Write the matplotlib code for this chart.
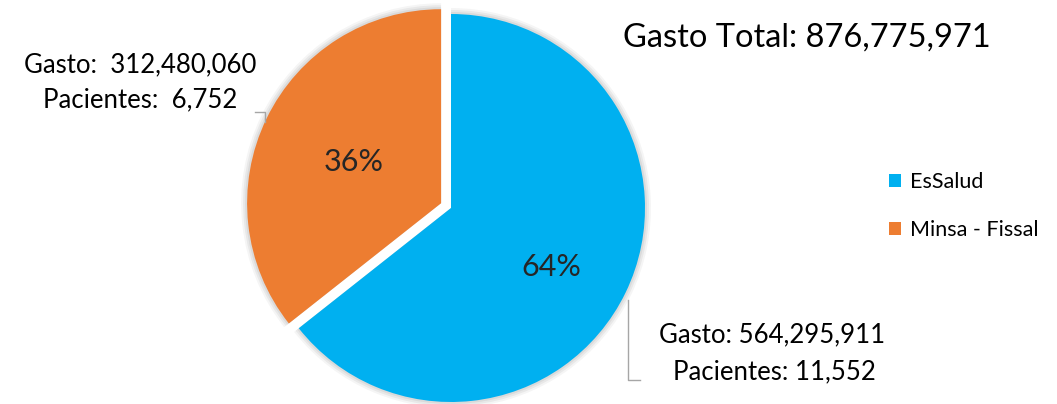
import matplotlib
matplotlib.use("Agg")
import matplotlib.pyplot as plt

plt.rcParams['font.family'] = ['Lato', 'DejaVu Sans']

categorias = ["EsSalud", "Minsa - Fissal"]
gasto = [564295911, 312480060]
pacientes = [11552, 6752]
colores = ["#00B0F0", "#ED7D31"]

fig = plt.figure(figsize=(10.57, 4.04), dpi=100)
ax = fig.add_axes([0, 0, 1, 1])

R = 194
cx, cy = 451, 196

wedges, _, autotexts = ax.pie(gasto, colors=colores, startangle=90, counterclock=False,
                              center=(cx, cy), radius=R, explode=[0, 11],
                              autopct='%1.0f%%', pctdistance=0.55,
                              wedgeprops=dict(linewidth=0),
                              textprops=dict(fontsize=22, color="#262626"))
ax.set_xlim(0, 1057)
ax.set_ylim(0, 404)
ax.set_aspect('equal')
ax.axis('off')
autotexts[0].set_position((551, 137))
autotexts[1].set_position((354, 242))

# soft shadow
for w in wedges:
    for k, a in [(6, 0.04), (4, 0.05), (2, 0.06)]:
        sh = matplotlib.patches.Wedge(w.center, w.r + k, w.theta1, w.theta2,
                                      facecolor='black', alpha=a, linewidth=0, zorder=0)
        ax.add_patch(sh)

total = sum(gasto)
ax.text(807, 366, "Gasto Total: {:,}".format(total), fontsize=23.5, ha='center', va='center',
        color='black')

# data labels
ax.text(140, 339, "Gasto:  {:,}".format(gasto[1]), fontsize=18.5, ha='center', va='center')
ax.text(140, 304, "Pacientes:  {:,}".format(pacientes[1]), fontsize=18.5, ha='center', va='center')
ax.text(772, 69, "Gasto: {:,}".format(gasto[0]), fontsize=18.5, ha='center', va='center')
ax.text(774, 32, "Pacientes: {:,}".format(pacientes[0]), fontsize=18.5, ha='center', va='center')

# leader lines
ax.plot([255, 265, 265], [292, 292, 282], color='#A6A6A6', lw=1)
ax.plot([628, 628, 640], [104, 24, 24], color='#A6A6A6', lw=1)

leg = ax.legend(wedges, categorias, loc='center left', bbox_to_anchor=(0.823, 0.49),
                frameon=False, fontsize=15.5, handlelength=0.55, handleheight=0.55,
                handletextpad=0.4, labelspacing=1.3)

fig.savefig("out.png", dpi=100)
